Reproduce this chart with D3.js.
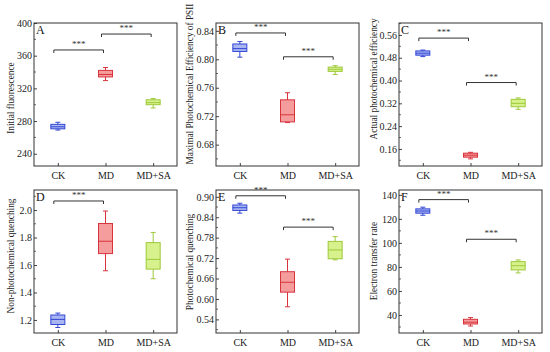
<!DOCTYPE html>
<html>
<head>
<meta charset="utf-8">
<script src="https://cdnjs.cloudflare.com/ajax/libs/d3/7.8.5/d3.min.js"></script>
<style>
  body { margin: 0; background: #fff; }
  svg text { font-family: "Liberation Serif", "Times New Roman", serif; }
</style>
</head>
<body>
<div id="chart"></div>
<script>
// groups shared by every panel
var groups = ["CK", "MD", "MD+SA"];
var letters = ["A", "B", "C", "D", "E", "F"];
var yTitles = ["Initial fluorescence", "Maximal Photochemical Efficiency of PSII", "Actual photochemical efficiency",
               "Non-photochemical quenching", "Photochemical quenching", "Electron transfer rate"];

// box stats per group: [min, q1, median, q3, max]
var statsA = [[269, 270.5, 273, 276, 278.5], [329.5, 334, 337, 342, 345.5], [296, 300, 302.5, 306, 307.5]];
var statsB = [[0.803, 0.811, 0.815, 0.8215, 0.825], [0.711, 0.712, 0.722, 0.743, 0.753], [0.7787, 0.783, 0.786, 0.789, 0.791]];
var statsC = [[0.484, 0.489, 0.496, 0.504, 0.507], [0.125, 0.131, 0.138, 0.145, 0.148], [0.299, 0.308, 0.320, 0.334, 0.339]];
var statsD = [[1.145, 1.167, 1.204, 1.236, 1.25], [1.558, 1.683, 1.773, 1.902, 1.993], [1.50, 1.57, 1.641, 1.763, 1.837]];
var statsE = [[0.852, 0.86, 0.868, 0.876, 0.881], [0.577, 0.62, 0.649, 0.68, 0.717], [0.715, 0.718, 0.744, 0.769, 0.783]];
var statsF = [[123, 124.7, 126.5, 128.3, 129.7], [30.8, 32.5, 34, 36.4, 37.8], [75, 77.5, 81, 84.4, 85.8]];

// tick labels
var ticksA = [240, 280, 320, 360, 400];
var ticksB = [0.68, 0.72, 0.76, 0.80, 0.84];
var ticksC = [0.16, 0.24, 0.32, 0.40, 0.48, 0.56];
var ticksD = [1.2, 1.4, 1.6, 1.8, 2.0];
var ticksE = [0.54, 0.60, 0.66, 0.72, 0.78, 0.84, 0.90];
var ticksF = [40, 60, 80, 100, 120, 140];

// significance brackets: [from group, to group, height]
var sigA = [[0, 1, 367], [1, 2, 386.5]];
var sigB = [[0, 1, 0.837], [1, 2, 0.8035]];
var sigC = [[0, 1, 0.549], [1, 2, 0.393]];
var sigD = [[0, 1, 2.066]];
var sigE = [[0, 1, 0.903], [1, 2, 0.811]];
var sigF = [[0, 1, 136], [1, 2, 103]];

var panels = [
  {stats: statsA, ticks: ticksA, sig: sigA, domain: [225, 400], fmt: "d", minor: 20},
  {stats: statsB, ticks: ticksB, sig: sigB, domain: [0.65, 0.851], fmt: ".2f", minor: 0.02},
  {stats: statsC, ticks: ticksC, sig: sigC, domain: [0.10, 0.602], fmt: ".2f", minor: 0.04},
  {stats: statsD, ticks: ticksD, sig: sigD, domain: [1.105, 2.146], fmt: ".1f", minor: 0.1},
  {stats: statsE, ticks: ticksE, sig: sigE, domain: [0.50, 0.92], fmt: ".2f", minor: 0.03},
  {stats: statsF, ticks: ticksF, sig: sigF, domain: [25, 144], fmt: "d", minor: 10}
];

var lefts = [34, 216, 399];
var tops = [23, 190];
var size = 143;
var titleX = [11, 190, 374];
var titleY = [98, 84, 79, 256, 262, 261];

var fills = ["#a9b6f2", "#f59c9c", "#d7f28c"];
var strokes = ["#3347d3", "#d8343d", "#9dc93a"];

var svg = d3.select("#chart").append("svg")
  .attr("width", 550).attr("height", 352);

panels.forEach(function(p, i) {
  var col = i % 3, row = Math.floor(i / 3);
  var x0 = lefts[col], y0 = tops[row];
  var g = svg.append("g").attr("transform", "translate(" + x0 + "," + y0 + ")");

  var x = d3.scalePoint().domain(groups).range([0, size]).padding(0.5);
  var y = d3.scaleLinear().domain(p.domain).range([size, 0]);

  // minor ticks
  var minors = d3.range(p.ticks[0] - p.minor, p.domain[1], p.minor * 2)
    .filter(function(v) { return v > p.domain[0] && v < p.domain[1]; });
  g.selectAll(".minor").data(minors).enter().append("line")
    .attr("x1", 0).attr("x2", 2)
    .attr("y1", function(d) { return y(d); }).attr("y2", function(d) { return y(d); })
    .attr("stroke", "#444").attr("stroke-width", 0.8);

  var yAxis = g.append("g").call(d3.axisLeft(y).tickValues(p.ticks).tickFormat(d3.format(p.fmt)).tickSize(-3).tickPadding(2));
  yAxis.select(".domain").remove();
  yAxis.selectAll("line").attr("stroke", "#444");
  yAxis.selectAll("text").attr("font-size", 10).attr("font-family", "Liberation Serif").attr("fill", "#222");

  var xAxis = g.append("g").attr("transform", "translate(0," + size + ")")
    .call(d3.axisBottom(x).tickSize(-3).tickPadding(6));
  xAxis.select(".domain").remove();
  xAxis.selectAll("line").attr("stroke", "#444");
  xAxis.selectAll("text").attr("font-size", 10).attr("font-family", "Liberation Serif").attr("fill", "#222");

  // boxes
  var bw = 14, cap = 5;
  var box = g.selectAll(".box").data(p.stats).enter().append("g")
    .attr("transform", function(d, j) { return "translate(" + x(groups[j]) + ",0)"; });
  box.append("line")
    .attr("x1", 0).attr("x2", 0)
    .attr("y1", function(d) { return y(d[0]); }).attr("y2", function(d) { return y(d[4]); })
    .attr("stroke", function(d, j) { return strokes[j]; }).attr("stroke-width", 1);
  [0, 4].forEach(function(k) {
    box.append("line")
      .attr("x1", -cap / 2).attr("x2", cap / 2)
      .attr("y1", function(d) { return y(d[k]); }).attr("y2", function(d) { return y(d[k]); })
      .attr("stroke", function(d, j) { return strokes[j]; }).attr("stroke-width", 1);
  });
  box.append("rect")
    .attr("x", -bw / 2).attr("width", bw)
    .attr("y", function(d) { return y(d[3]); })
    .attr("height", function(d) { return y(d[1]) - y(d[3]); })
    .attr("fill", function(d, j) { return fills[j]; })
    .attr("stroke", function(d, j) { return strokes[j]; }).attr("stroke-width", 1);
  box.append("line")
    .attr("x1", -bw / 2).attr("x2", bw / 2)
    .attr("y1", function(d) { return y(d[2]); }).attr("y2", function(d) { return y(d[2]); })
    .attr("stroke", function(d, j) { return strokes[j]; }).attr("stroke-width", 1);

  // significance brackets
  var sg = g.selectAll(".sig").data(p.sig).enter().append("g");
  sg.append("path")
    .attr("d", function(d) {
      var a = x(groups[d[0]]) - 4, b = x(groups[d[1]]) - 2, h = y(d[2]);
      return "M" + a + "," + (h + 3) + "V" + h + "H" + b + "V" + (h + 3);
    })
    .attr("fill", "none").attr("stroke", "#333").attr("stroke-width", 1);
  sg.append("text")
    .attr("x", function(d) { return (x(groups[d[0]]) + x(groups[d[1]])) / 2 - 3; })
    .attr("y", function(d) { return y(d[2]) - 3; })
    .attr("text-anchor", "middle").attr("font-size", 9).attr("fill", "#333")
    .text("***");

  // frame
  g.append("rect").attr("width", size).attr("height", size)
    .attr("fill", "none").attr("stroke", "#333").attr("stroke-width", 1);

  g.append("text").attr("x", 2).attr("y", 11)
    .attr("font-size", 12).attr("fill", "#111").text(letters[i]);

  svg.append("text")
    .attr("transform", "translate(" + titleX[col] + "," + titleY[i] + ") rotate(-90)")
    .attr("text-anchor", "middle").attr("dy", "0.35em")
    .attr("font-size", 9.3).attr("fill", "#222")
    .text(yTitles[i]);
});
</script>
</body>
</html>
